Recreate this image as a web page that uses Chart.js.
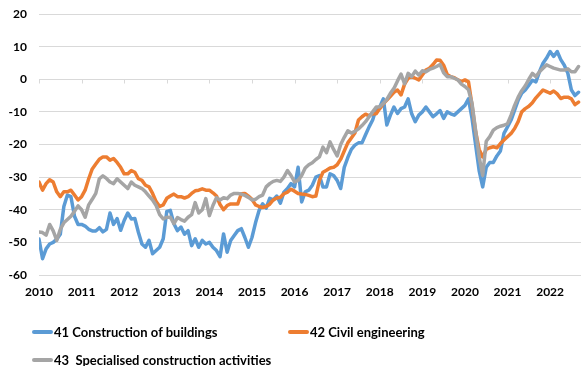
<!DOCTYPE html>
<html>
<head>
<meta charset="utf-8">
<script src="https://cdn.jsdelivr.net/npm/chart.js@4/dist/chart.umd.min.js"></script>
<style>
  html, body { margin: 0; padding: 0; background: #fff; overflow: hidden; }
  #wrap { position: relative; width: 581px; height: 366px; }
  #legend {
    position: absolute; left: 32px; top: 318px;
    display: grid; grid-template-columns: 256px auto;
    font-family: Lato, "Open Sans", sans-serif; font-weight: 700; font-size: 13px; color: #000;
  }
  .item { display: flex; align-items: center; height: 28px; white-space: pre; }
  .swatch { width: 21px; height: 3.5px; border-radius: 2px; margin-right: 1px; }
</style>
</head>
<body>
<div id="wrap">
  <canvas id="chart" width="581" height="366"></canvas>
  <div id="legend"></div>
</div>
<script>
// Monthly series, January 2010 onwards
const yearLabels = ['2010','2011','2012','2013','2014','2015','2016','2017','2018','2019','2020','2021','2022'];
const seriesNames = ['41 Construction of buildings', '42 Civil engineering', '43  Specialised construction activities'];

const buildings = [
  -49, -55, -52, -50.5, -50, -49, -47.5, -39, -35.5, -36,
  -42, -44.5, -44.5, -45, -46, -46.5, -46.5, -45.5, -46.8, -46,
  -41, -44.5, -42.7, -46.3, -43.3, -41, -42.8, -42.7, -46.9, -50.5,
  -51.5, -49.4, -53.5, -52.5, -51.5, -48.9, -40.5, -40.2, -44.3, -46.4,
  -45.3, -47.5, -46.4, -51, -48.9, -51.5, -49.4, -50.5, -50, -51.5,
  -52.5, -54.4, -47.4, -53, -49.4, -47.9, -46.4, -45.8, -48.5, -51.5,
  -48.5, -44, -40.2, -38.2, -39.5, -36.5, -37, -35.8, -38, -34.6,
  -33.5, -32, -33, -27, -37.6, -34.5, -34, -32.5, -30, -29.5,
  -33, -33, -29, -29.5, -31, -33.5, -27, -24, -21.5, -20.2,
  -19.5, -19.5, -17, -14.6, -12.5, -9, -8.5, -6, -14, -11,
  -8.5, -10.5, -9, -8.5, -6, -10.6, -13, -11, -10, -8.5,
  -10, -11.5, -10.6, -9.6, -12, -10, -10.6, -11, -10, -9,
  -8, -6, -12, -20, -28, -33, -27, -25.5, -25.5, -23.5,
  -22, -16.6, -14.6, -12.5, -9.5, -6.4, -4.3, -3.3, -1.8, -0.3,
  -0.8, 2.3, 4.9, 6.5, 8.5, 7, 8.5, 6, 4.3, 1.8,
  -3.3, -5, -4
];

const civil = [
  -31.5, -34, -32, -30.8, -31.5, -34.5, -36, -34.5, -34.5, -34,
  -35.5, -37, -36, -34, -30.5, -27.5, -26, -24.5, -23.8, -23.8,
  -24.8, -24.3, -25.5, -27, -29, -29, -28, -28.5, -30.5, -31,
  -32.5, -33, -35, -37.5, -39, -38.5, -36.5, -35.8, -35.2, -36,
  -36, -36.4, -36, -35, -34.2, -34, -33.6, -34, -34, -34.8,
  -35.8, -38.4, -40, -38.7, -38.2, -38.2, -38.2, -35.1, -35, -35.8,
  -36.8, -38.5, -39, -39.3, -39, -38.3, -37, -36.4, -36.2, -35.1,
  -34.6, -33.7, -34.3, -35, -35.2, -35.3, -35.6, -36, -35.8, -31,
  -28.5, -27.9, -27.2, -27, -26.2, -24.5, -22, -19.5, -18, -16.5,
  -12.5, -11.5, -10.7, -11.2, -10.5, -10.6, -9, -7.5, -6.4, -5.2,
  -4, -3.3, -4.8, -1.5, 0.3, 0.8, 0.3, -0.2, 1.3, 2.8,
  3.4, 4.5, 5.9, 5.8, 4.3, 1.5, 0.8, 0.5, -0.2, -0.7,
  -0.2, -0.8, -8, -16, -21.5, -23.8, -21.5, -21, -20.7, -21,
  -19.7, -18.6, -17.6, -16.6, -15.1, -13, -10, -9, -8.3, -7.2,
  -5.7, -4.5, -3.3, -3.8, -4.3, -3.6, -4.5, -5.9, -5.5, -5.5,
  -6, -7.8, -7
];

const specialised = [
  -46.8, -47, -47.8, -44.5, -46.5, -49.4, -46, -44, -43, -42,
  -40.5, -38.8, -40, -42.3, -38.5, -36.8, -35, -30.5, -29.6, -30.4,
  -31.5, -32, -30.5, -31.5, -32.5, -33.5, -31.5, -32.5, -33, -33.5,
  -34.5, -35.8, -37, -38.7, -41.5, -42.8, -42.3, -42.3, -44.3, -42.4,
  -43, -43.5, -42.3, -41.5, -37.8, -41, -40, -36.6, -41.8, -38.7,
  -36.3, -37, -36.3, -36.6, -35.5, -35, -35, -35.2, -35.6, -36.2,
  -37, -36.8, -36, -35.5, -33, -32, -31.3, -31, -31.3, -30,
  -28, -29.5, -31.5, -31, -29.5, -27.2, -26.2, -25.6, -24.6, -23.8,
  -20.8, -22.5, -19.2, -21.5, -23.5, -20, -17.8, -15.8, -16.5, -16,
  -15.2, -14.2, -13, -11.5, -10, -8.5, -8.4, -7.4, -6.2, -4.3,
  -2.8, -0.5, 1.6, -1.4, 1.8, 0.8, 2.5, 1.3, 2.6, 2.3,
  3, 3.4, 3.9, 4.5, 2, 0.8, 0.8, 0.3, -0.2, -1.5,
  -2.2, -3.2, -7.4, -15.6, -23.8, -29.5, -19, -17.6, -15.6, -14.8,
  -14.4, -14.1, -13.6, -11, -8, -5.5, -3.5, -2, 0, 1.8,
  0.8, 2.3, 3.4, 4.4, 3.9, 3.4, 3.1, 2.8, 2.8, 3.2,
  2.3, 2.3, 3.9
];

const colors = ['#5B9BD5', '#ED7D31', '#A5A5A5'];
const monthsPerYear = 12;
const xMax = 152.7;

const toPoints = arr => arr.map((v, i) => ({ x: i, y: v }));

const tickFont = { family: 'Lato', size: 12, weight: 'bold' };

// short tick marks hanging below the zero line at each year
const zeroLineTicks = {
  id: 'zeroLineTicks',
  beforeDatasetsDraw(chart) {
    const { ctx, scales: { x, y } } = chart;
    const y0 = Math.round(y.getPixelForValue(0)) + 0.5;
    ctx.save();
    ctx.strokeStyle = '#D9D9D9';
    ctx.lineWidth = 1;
    x.ticks.forEach(t => {
      if (t.value % monthsPerYear !== 0) return;
      const px = Math.round(x.getPixelForValue(t.value)) + 0.5;
      ctx.beginPath();
      ctx.moveTo(px, y0);
      ctx.lineTo(px, y0 + 4);
      ctx.stroke();
    });
    ctx.restore();
  }
};

const seriesData = [buildings, civil, specialised];
const datasets = seriesData.map((arr, i) => ({
  label: seriesNames[i],
  data: toPoints(arr),
  borderColor: colors[i],
  backgroundColor: colors[i],
  borderWidth: 3.5,
  pointRadius: 0,
  tension: 0,
  borderJoinStyle: 'round',
  borderCapStyle: 'round',
  order: seriesData.length - i
}));

const chart = new Chart(document.getElementById('chart'), {
  type: 'line',
  data: { datasets },
  options: {
    responsive: false,
    animation: false,
    devicePixelRatio: 1,
    layout: { padding: { top: 14, right: 0, left: 0, bottom: 0 } },
    plugins: { legend: { display: false }, tooltip: { enabled: false } },
    scales: {
      x: {
        type: 'linear',
        min: 0,
        max: xMax,
        grid: { display: false, drawTicks: false },
        border: { display: false },
        ticks: {
          stepSize: monthsPerYear,
          includeBounds: false,
          autoSkip: false,
          maxRotation: 0,
          padding: 10,
          color: '#000',
          font: tickFont,
          callback: v => yearLabels[v / monthsPerYear] ?? ''
        },
        afterFit: s => { s.height = 91; s.paddingLeft = 0; s.paddingRight = 0; }
      },
      y: {
        min: -60,
        max: 20,
        grid: { color: '#D9D9D9', lineWidth: 1, drawTicks: false },
        border: { display: false },
        ticks: { stepSize: 10, padding: 12, color: '#000', font: tickFont },
        afterFit: s => { s.width = 39; s.paddingTop = 0; s.paddingBottom = 0; }
      }
    }
  },
  plugins: [zeroLineTicks]
});

// legend built from the datasets
const legend = document.getElementById('legend');
chart.data.datasets.forEach(ds => {
  const item = document.createElement('div');
  item.className = 'item';
  const sw = document.createElement('span');
  sw.className = 'swatch';
  sw.style.background = ds.borderColor;
  const txt = document.createElement('span');
  txt.textContent = ds.label;
  item.appendChild(sw);
  item.appendChild(txt);
  legend.appendChild(item);
});
</script>
</body>
</html>
